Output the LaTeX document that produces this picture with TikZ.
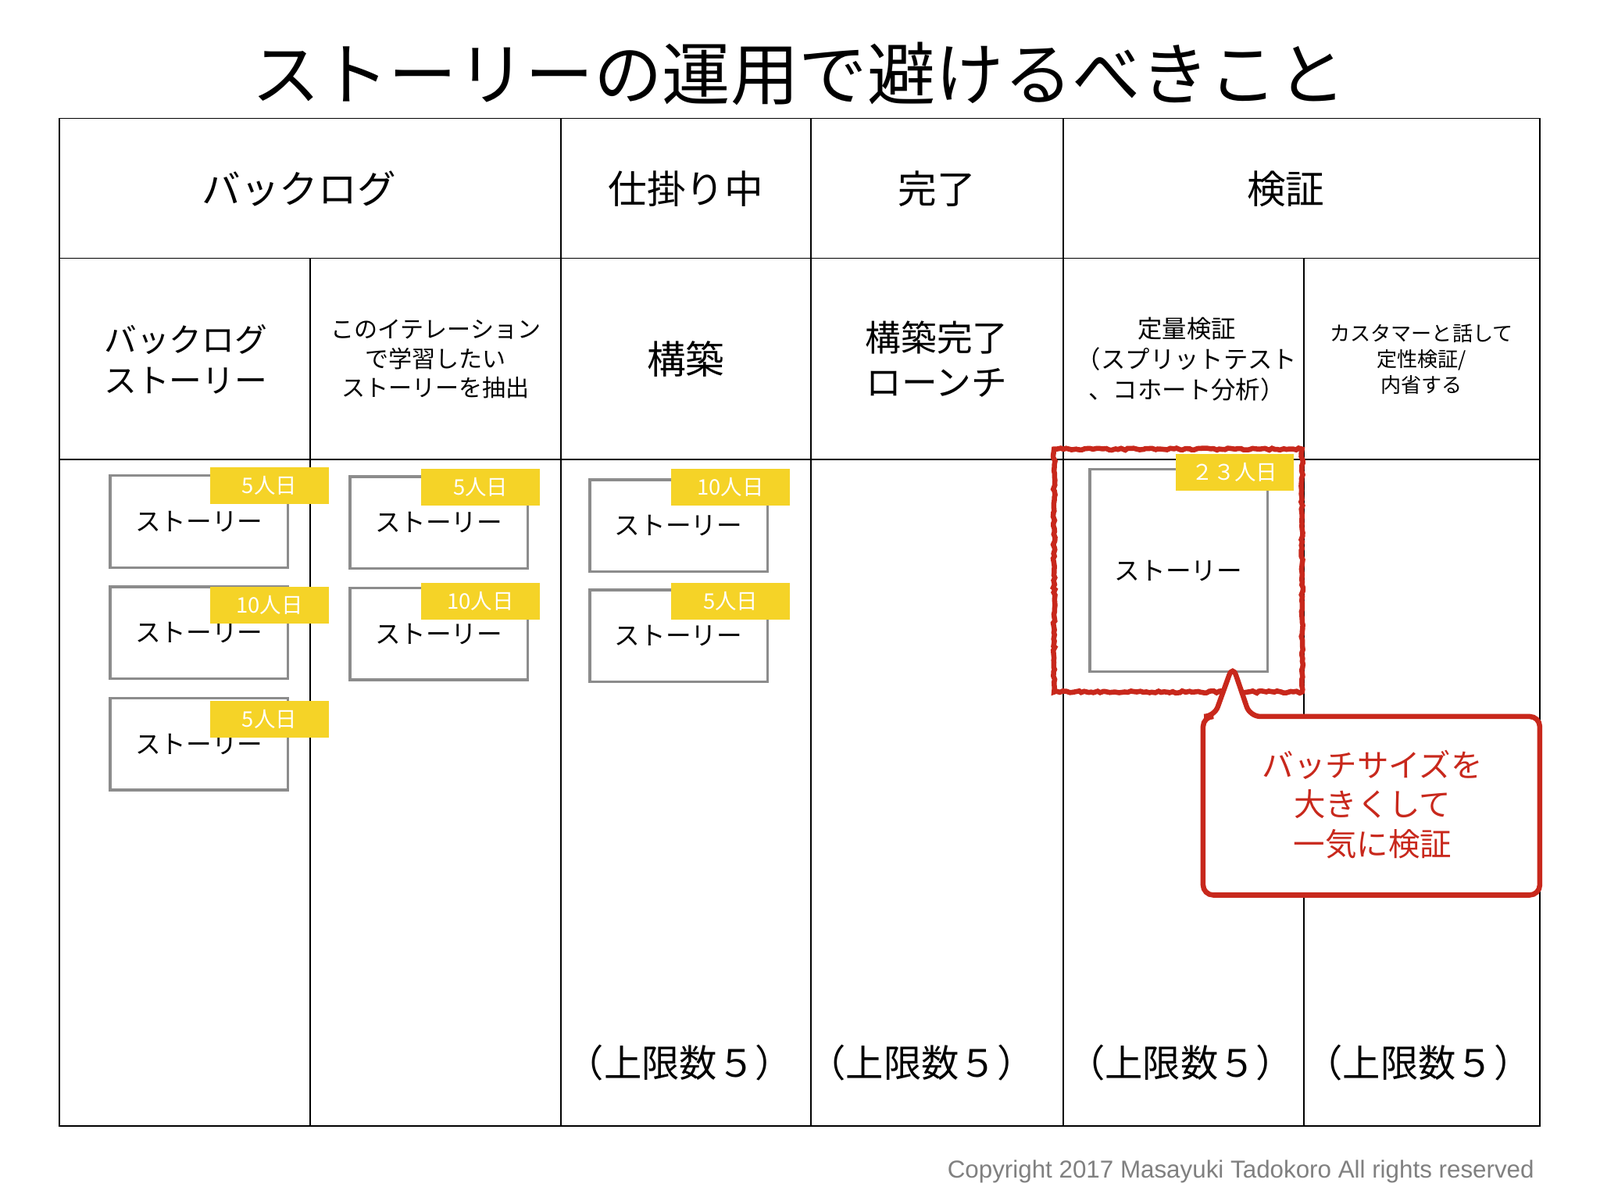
\documentclass[tikz,border=0pt]{standalone}
\usepackage{fontspec}
\setmainfont{Noto Sans CJK JP}
\newfontfamily\latinf{Liberation Sans}
\usetikzlibrary{decorations.pathmorphing}
\definecolor{tagy}{HTML}{F5D327}
\definecolor{redc}{HTML}{C8281C}
\definecolor{cardg}{HTML}{8C8C8C}
\tikzset{
 fs/.style={font=\fontsize{#1pt}{1.25\dimexpr #1pt\relax}\selectfont},
 card/.style={draw=cardg,line width=2.5pt,fill=white,minimum width=174pt,minimum height=90pt,inner sep=0pt,fs=25},
 tag/.style={fill=tagy,text=white,minimum width=116pt,minimum height=36pt,inner sep=0pt,fs=21},
 hdr/.style={fs=38,align=center},
 grid/.style={line width=1.4pt,black},
 lim/.style={fs=37}
}
\begin{document}
\begin{tikzpicture}[x=1pt,y=-1pt]
\useasboundingbox[fill=white] (0,0) rectangle (1568,1176);
\node[fs=67] (title) at (783,72) {ストーリーの運用で避けるべきこと};
% grid
\draw[grid] (58,116) rectangle (1509,1103);
\coordinate (r1l) at (58,253); \coordinate (r1r) at (1509,253);
\coordinate (r2l) at (58,450); \coordinate (r2r) at (1509,450);
\draw[grid] (r1l) -- (r1r); \draw[grid] (r2l) -- (r2r);
\foreach \x in {550,795,1042} \draw[grid] (\x,116) -- (\x,1103);
\foreach \x in {304,1278} \draw[grid] (\x,253) -- (\x,1103);
% headers
\node[hdr] (h1) at (293,185) {バックログ};
\node[hdr] (h2) at (672,185) {仕掛り中};
\node[hdr] (h3) at (918,185) {完了};
\node[hdr] (h4) at (1260,185) {検証};
\node[fs=32,align=center] (s1) at (182,352) {バックログ\\ストーリー};
\node[fs=23,align=center] (s2) at (427,352) {このイテレーション\\で学習したい\\ストーリーを抽出};
\node[hdr] (s3) at (672,352) {構築};
\node[fs=35,align=center] (s4) at (918,352) {構築完了\\ローンチ};
\node[fs=24,align=center] (s5) at (1163,352) {定量検証\\（スプリットテスト\\、コホート分析）};
\node[fs=20,align=center] (s6) at (1393,352) {カスタマーと話して\\定性検証/\\内省する};
% cards
\node[card] (c11) at (195,511) {ストーリー};
\node[card] (c12) at (195,620) {ストーリー};
\node[card] (c13) at (195,729) {ストーリー};
\node[card] (c21) at (430,512) {ストーリー};
\node[card] (c22) at (430,621) {ストーリー};
\node[card] (c31) at (665,515) {ストーリー};
\node[card] (c32) at (665,623) {ストーリー};
\node[tag] (t11) at (264,476) {5人日};
\node[tag] (t12) at (264,593) {10人日};
\node[tag] (t13) at (264,705) {5人日};
\node[tag] (t21) at (471,477) {5人日};
\node[tag] (t22) at (471,589) {10人日};
\node[tag] (t31) at (716,477) {10人日};
\node[tag] (t32) at (716,589) {5人日};
% big card
\node[card,minimum height=198pt] (cb) at (1155,559) {ストーリー};
\node[tag] (tb) at (1210,463) {２３人日};
\draw[redc,line width=5pt,decorate,decoration={random steps,segment length=3pt,amplitude=1pt}] (1033,440) rectangle (1276,678);
% callout
\draw[redc,line width=5pt,fill=white,rounded corners=10pt] (1225,702) -- (1509,702) -- (1509,877) -- (1179,877) -- (1179,702) -- (1190,702) -- (1208,652) -- cycle;
\node[fs=31,text=redc,align=center] (co) at (1345,788) {バッチサイズを\\大きくして\\一気に検証};
% limits
\node[lim] (l3) at (666,1041) {（上限数５）};
\node[lim] (l4) at (903,1041) {（上限数５）};
\node[lim] (l5) at (1157,1041) {（上限数５）};
\node[lim] (l6) at (1390,1041) {（上限数５）};
\node[anchor=east,text=gray,font=\fontsize{24}{28}\latinf] (cp) at (1507,1148) {Copyright 2017 Masayuki Tadokoro All rights reserved};
\end{tikzpicture}
\end{document}
